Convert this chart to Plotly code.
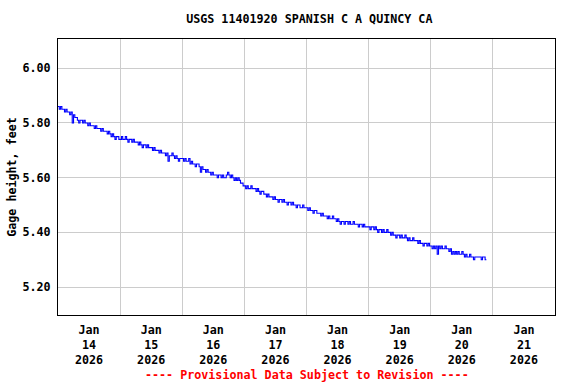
import pandas as pd
import plotly.graph_objects as go

# Gage height readings (feet), 30-minute spacing starting 2026-01-14 00:00
day_jan14 = [5.86, 5.85, 5.86, 5.85, 5.85, 5.84, 5.85, 5.84, 5.84, 5.83, 5.84, 5.80,
             5.83, 5.82, 5.82, 5.81, 5.80, 5.81, 5.81, 5.80, 5.81, 5.80, 5.80, 5.79,
             5.80, 5.79, 5.79, 5.79, 5.78, 5.79, 5.78, 5.78, 5.78, 5.77, 5.78, 5.77,
             5.77, 5.77, 5.76, 5.77, 5.76, 5.75, 5.76, 5.75, 5.74, 5.75, 5.75, 5.74]
day_jan15 = [5.74, 5.75, 5.74, 5.74, 5.75, 5.74, 5.73, 5.74, 5.74, 5.73, 5.74, 5.73,
             5.73, 5.73, 5.72, 5.73, 5.72, 5.71, 5.72, 5.72, 5.71, 5.72, 5.71, 5.71,
             5.71, 5.70, 5.71, 5.70, 5.70, 5.70, 5.69, 5.70, 5.69, 5.69, 5.69, 5.68,
             5.69, 5.66, 5.68, 5.68, 5.69, 5.68, 5.67, 5.68, 5.67, 5.66, 5.67, 5.67]
day_jan16 = [5.67, 5.66, 5.67, 5.66, 5.66, 5.67, 5.65, 5.66, 5.65, 5.65, 5.64, 5.65,
             5.65, 5.64, 5.62, 5.64, 5.63, 5.63, 5.62, 5.63, 5.62, 5.62, 5.61, 5.62,
             5.61, 5.61, 5.61, 5.60, 5.61, 5.61, 5.60, 5.61, 5.60, 5.60, 5.61, 5.62,
             5.61, 5.60, 5.61, 5.60, 5.59, 5.60, 5.59, 5.60, 5.59, 5.58, 5.58, 5.57]
day_jan17 = [5.57, 5.56, 5.57, 5.56, 5.56, 5.57, 5.56, 5.56, 5.56, 5.55, 5.56, 5.55,
             5.54, 5.55, 5.55, 5.54, 5.54, 5.53, 5.54, 5.53, 5.53, 5.53, 5.52, 5.53,
             5.52, 5.52, 5.51, 5.52, 5.52, 5.51, 5.52, 5.51, 5.51, 5.50, 5.51, 5.51,
             5.50, 5.51, 5.50, 5.50, 5.49, 5.50, 5.50, 5.49, 5.49, 5.50, 5.49, 5.49]
day_jan18 = [5.49, 5.48, 5.49, 5.48, 5.48, 5.47, 5.48, 5.48, 5.47, 5.47, 5.47, 5.46,
             5.47, 5.46, 5.46, 5.46, 5.45, 5.46, 5.45, 5.45, 5.46, 5.45, 5.45, 5.44,
             5.45, 5.44, 5.43, 5.44, 5.44, 5.43, 5.44, 5.44, 5.43, 5.44, 5.43, 5.43,
             5.44, 5.43, 5.43, 5.43, 5.42, 5.43, 5.43, 5.42, 5.43, 5.42, 5.42, 5.42]
day_jan19 = [5.42, 5.41, 5.42, 5.42, 5.41, 5.42, 5.41, 5.40, 5.41, 5.41, 5.40, 5.41,
             5.40, 5.40, 5.41, 5.40, 5.40, 5.39, 5.40, 5.39, 5.39, 5.38, 5.39, 5.39,
             5.38, 5.39, 5.38, 5.38, 5.39, 5.38, 5.37, 5.38, 5.37, 5.37, 5.38, 5.37,
             5.37, 5.37, 5.36, 5.37, 5.36, 5.36, 5.35, 5.36, 5.36, 5.35, 5.36, 5.35]
day_jan20 = [5.35, 5.34, 5.35, 5.34, 5.35, 5.32, 5.35, 5.34, 5.35, 5.34, 5.34, 5.35,
             5.34, 5.34, 5.33, 5.34, 5.32, 5.33, 5.32, 5.33, 5.32, 5.33, 5.32, 5.32,
             5.33, 5.32, 5.31, 5.32, 5.31, 5.31, 5.32, 5.31, 5.31, 5.30, 5.31, 5.31,
             5.31, 5.31, 5.31, 5.30, 5.31, 5.31, 5.30, 5.30]

gage_height = day_jan14 + day_jan15 + day_jan16 + day_jan17 + day_jan18 + day_jan19 + day_jan20
times = pd.date_range("2026-01-14 00:00", periods=len(gage_height), freq="30min")

tick_days = ["14", "15", "16", "17", "18", "19", "20", "21"]
tick_positions = pd.date_range("2026-01-14 12:00", periods=len(tick_days), freq="1D")
tick_text = ["Jan<br>" + d + "<br>2026" for d in tick_days]
y_ticks = [5.20, 5.40, 5.60, 5.80, 6.00]

FONT = "DejaVu Sans Mono"

fig = go.Figure()
fig.add_trace(go.Scatter(
    x=times, y=gage_height, mode="lines",
    line=dict(color="#0000ff", width=1.1, shape="hv"),
    showlegend=False, hoverinfo="skip",
))

fig.update_layout(
    width=576, height=384,
    margin=dict(l=58, r=21, t=39, b=69, autoexpand=False),
    paper_bgcolor="white", plot_bgcolor="white",
    font=dict(family=FONT, size=11.7, color="black", weight="bold"),
    title=dict(text="USGS 11401920 SPANISH C A QUINCY CA", x=0.537, xanchor="center",
               y=1 - 19 / 384, yanchor="middle", yref="container",
               font=dict(family=FONT, size=11.7, color="black", weight="bold")),
    xaxis=dict(
        range=["2026-01-14", "2026-01-22"], automargin=False,
        tickmode="array", tickvals=tick_positions, ticktext=tick_text,
        showgrid=False, ticks="", ticklabelstandoff=4,
        showline=True, linecolor="black", linewidth=1, mirror=True,
        minor=dict(tick0="2026-01-14", dtick=86400000, showgrid=True,
                   gridcolor="#cccccc", gridwidth=1, ticks=""),
        zeroline=False,
    ),
    yaxis=dict(
        range=[5.098, 6.107], automargin=False,
        tickmode="array", tickvals=y_ticks, tickformat=".2f",
        showgrid=True, gridcolor="#cccccc", gridwidth=1, ticks="",
        ticklabelstandoff=4,
        showline=True, linecolor="black", linewidth=1, mirror=True,
        zeroline=False,
        title=dict(text="Gage height, feet", standoff=3,
                   font=dict(family=FONT, size=11.7, color="black", weight="bold")),
    ),
    annotations=[dict(
        text="---- Provisional Data Subject to Revision ----",
        xref="paper", yref="paper", x=0.5, y=-0.217,
        xanchor="center", yanchor="middle", showarrow=False,
        font=dict(family=FONT, size=11.7, color="#ff0000", weight="bold"),
    )],
)

fig.write_html("out.html", config={"displayModeBar": False},
               post_script="document.body.style.margin='0';")
